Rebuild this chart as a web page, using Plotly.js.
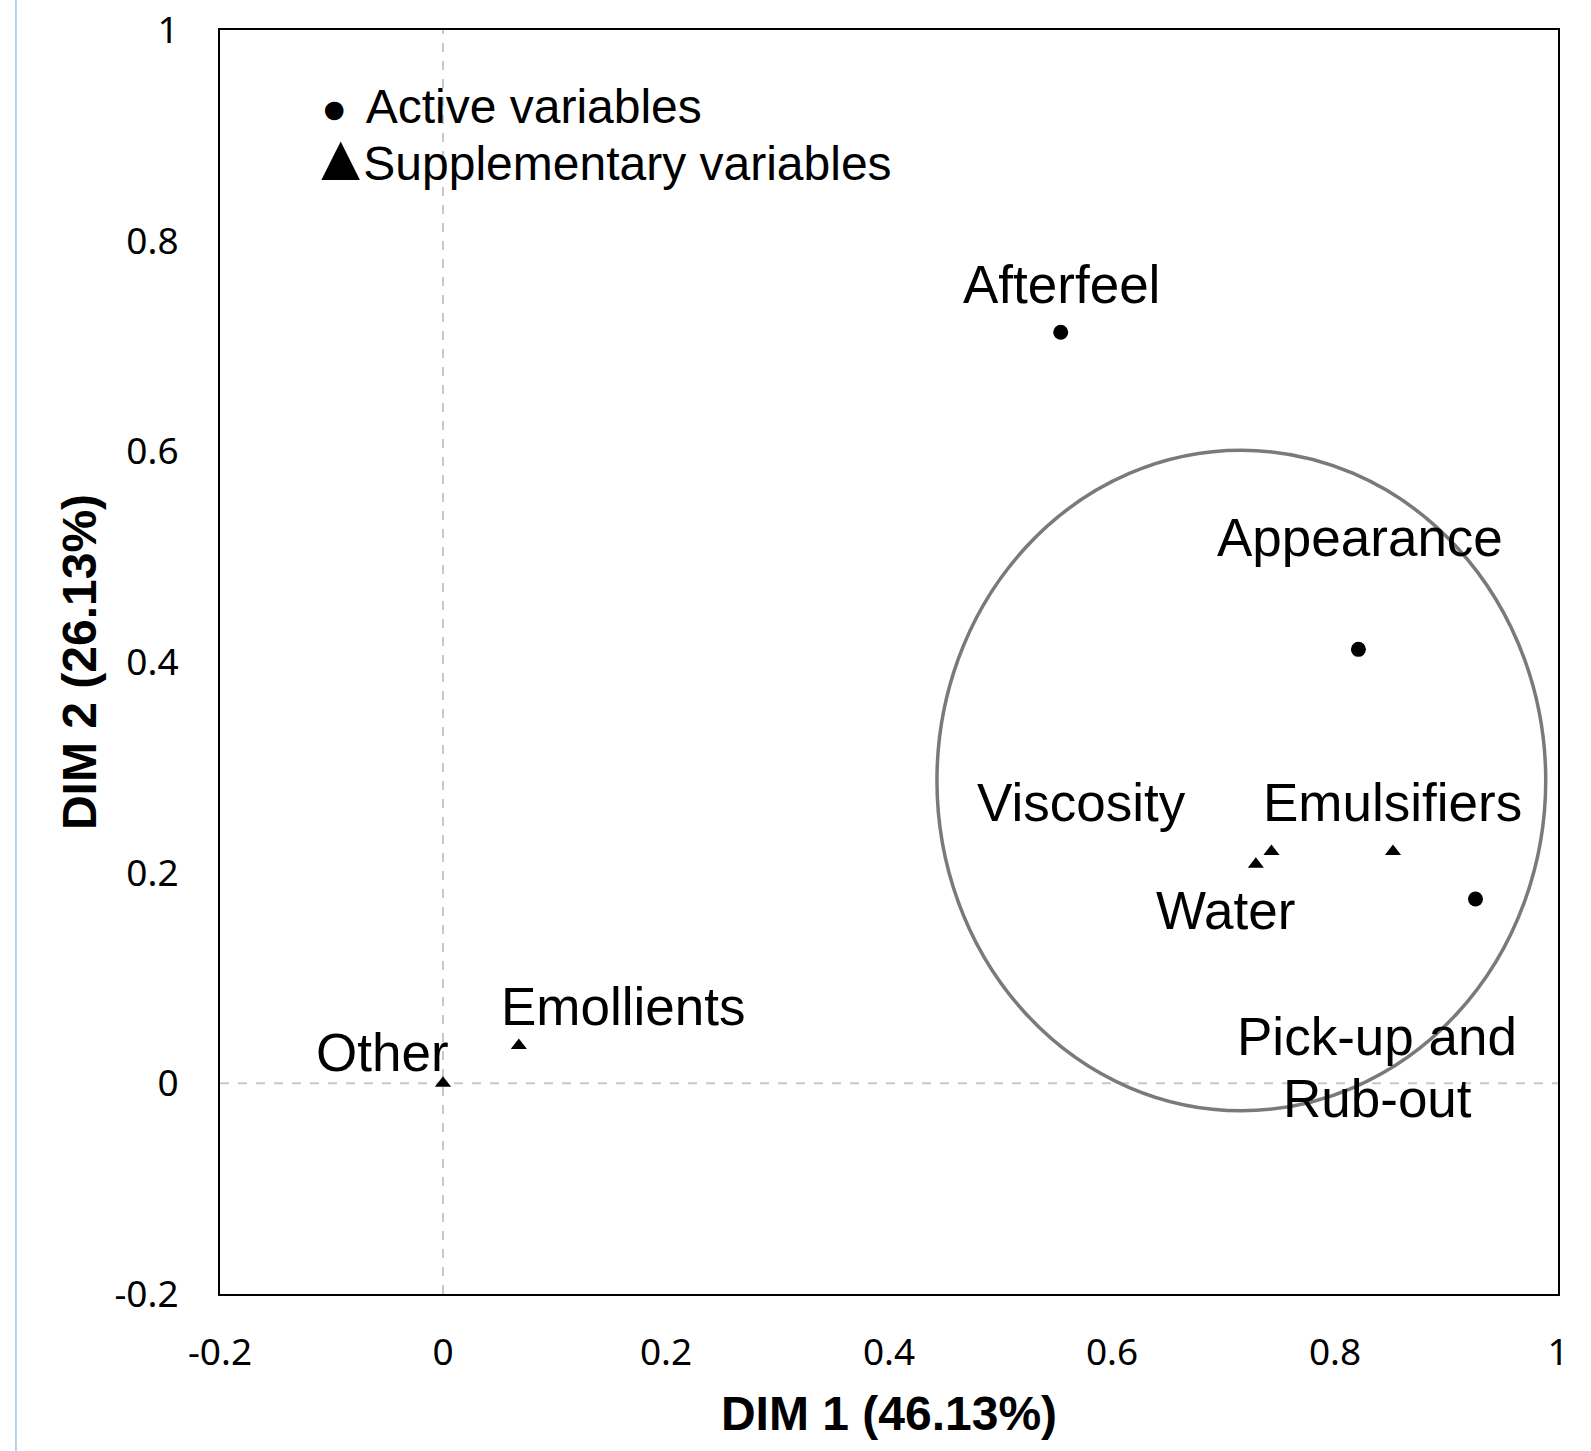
<!DOCTYPE html>
<html>
<head>
<meta charset="utf-8">
<script src="https://cdn.plot.ly/plotly-3.0.1.min.js"></script>
<style>html,body{margin:0;padding:0;background:#fff;}#chart{width:1591px;height:1451px;}</style>
</head>
<body>
<div id="chart"></div>
<script>
// Active variables (circles)
const activeNames = ["Afterfeel", "Appearance", "Pick-up and Rub-out"];
const activeX = [0.554, 0.821, 0.926];
const activeY = [0.713, 0.412, 0.175];
// Supplementary variables (triangles)
const suppNames = ["Water", "Viscosity", "Emulsifiers", "Emollients", "Other"];
const suppX = [0.729, 0.743, 0.852, 0.068, 0.0];
const suppY = [0.208, 0.220, 0.220, 0.036, 0.0];
// label text lines and anchor positions (data units), one entry per line
const labelLines = {"Pick-up and Rub-out": ["Pick-up and", "Rub-out"]};
const labelX = {"Afterfeel":[0.555], "Appearance":[0.822], "Pick-up and Rub-out":[0.838, 0.838],
  "Water":[0.702], "Viscosity":[0.573], "Emulsifiers":[0.852], "Emollients":[0.161], "Other":[-0.054]};
const labelY = {"Afterfeel":[0.758], "Appearance":[0.518], "Pick-up and Rub-out":[0.044, -0.0145],
  "Water":[0.164], "Viscosity":[0.267], "Emulsifiers":[0.267], "Emollients":[0.073], "Other":[0.029]};
const tickVals = [-0.2, 0, 0.2, 0.4, 0.6, 0.8, 1];
const tickText = ["-0.2", "0", "0.2", "0.4", "0.6", "0.8", "1"];
const xTitle = "DIM 1 (46.13%)";
const yTitle = "DIM 2 (26.13%)";
const legendLabels = ["Active variables", "Supplementary variables"];
const legendSymbols = ["\u25CF", "\u25B2"];

const FONT = "'Liberation Sans', Arial, sans-serif";

const traces = [
  {x: activeX, y: activeY, type: "scatter", mode: "markers", name: legendLabels[0],
   marker: {symbol: "circle", size: 15, color: "#000"}, hoverinfo: "skip"},
  {x: suppX, y: suppY, type: "scatter", mode: "markers", name: legendLabels[1],
   marker: {symbol: "triangle-up", size: 14, color: "#000"}, hoverinfo: "skip"}
];

const labelFont = {family: FONT, size: 53, color: "#000"};
const annotations = [];
activeNames.concat(suppNames).forEach(n => {
  const lines = labelLines[n] || [n];
  lines.forEach((t, i) => {
    annotations.push({x: labelX[n][i], y: labelY[n][i], xref: "x", yref: "y", text: t, showarrow: false,
      font: labelFont, xanchor: "center", yanchor: "middle"});
  });
});
// legend block (symbols + texts), one annotation
const legendText =
  "<span style='font-size:48px'> </span><span style='font-size:43px'>" + legendSymbols[0] + "</span>" +
  "<span style='font-size:48px;letter-spacing:5px'> </span><span style='font-size:48px'>" + legendLabels[0] + "</span><br>" +
  "<span style='font-size:66px;letter-spacing:-10px'>" + legendSymbols[1] + "</span>" +
  "<span style='font-size:48px'>" + legendLabels[1] + "</span>";
annotations.push({x: 0.0641, xref: "paper", y: 0.9156, yref: "paper", text: legendText, showarrow: false,
  xanchor: "left", yanchor: "middle", align: "left", font: {family: FONT, size: 44, color: "#000"}});

const layout = {
  width: 1591, height: 1451,
  margin: {l: 220, r: 33, t: 30, b: 157},
  paper_bgcolor: "#fff", plot_bgcolor: "#fff",
  showlegend: false,
  xaxis: {range: [-0.2, 1], tickvals: tickVals, ticktext: tickText, showgrid: false, zeroline: false,
    showline: true, mirror: true, linecolor: "#000", linewidth: 2, ticks: "", ticklabelstandoff: 25,
    tickfont: {family: "'Noto Sans', sans-serif", size: 37, color: "#000"},
    title: {text: xTitle, standoff: 21, font: {family: FONT, size: 48, color: "#000", weight: "bold"}}},
  yaxis: {range: [-0.2, 1], tickvals: tickVals, ticktext: tickText, showgrid: false, zeroline: false,
    showline: true, mirror: true, linecolor: "#000", linewidth: 2, ticks: "", ticklabelstandoff: 32,
    tickfont: {family: "'Noto Sans', sans-serif", size: 37, color: "#000"},
    title: {text: yTitle, standoff: 3, font: {family: FONT, size: 48, color: "#000", weight: "bold"}}},
  shapes: [
    {type: "line", xref: "x", yref: "y", x0: 0, x1: 0, y0: -0.2, y1: 1, line: {color: "#c8c8c8", width: 2, dash: "dash"}, layer: "below"},
    {type: "line", xref: "x", yref: "y", x0: -0.2, x1: 1, y0: 0, y1: 0, line: {color: "#c8c8c8", width: 2, dash: "dash"}, layer: "below"},
    {type: "circle", xref: "x", yref: "y", x0: 0.443, x1: 0.989, y0: -0.026, y1: 0.601, line: {color: "#7a7a7a", width: 3.5}},
    {type: "line", xref: "paper", yref: "paper", x0: -0.1525, x1: -0.1525, y0: -0.13, y1: 1.024, line: {color: "#9dc3e6", width: 1.5}}
  ],
  annotations: annotations
};
Plotly.newPlot("chart", traces, layout, {staticPlot: true, displayModeBar: false});
</script>
</body>
</html>
